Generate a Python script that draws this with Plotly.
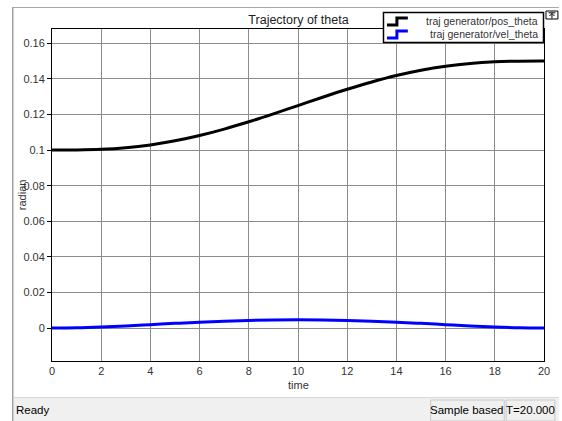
import plotly.graph_objects as go

# ---- data ----
time = [0, 1, 2, 3, 4, 5, 6, 7, 8, 9, 10, 11, 12, 13, 14, 15, 16, 17, 18, 19, 20]
pos_theta = [0.1000, 0.10006, 0.10043, 0.10133, 0.10290, 0.10518, 0.10815, 0.11176,
             0.11587, 0.12034, 0.12500, 0.12966, 0.13413, 0.13824, 0.14185, 0.14482,
             0.14710, 0.14867, 0.14957, 0.14994, 0.1500]
vel_theta = [0.0, 0.00017, 0.00061, 0.00122, 0.00192, 0.00264, 0.00331, 0.00388,
             0.00432, 0.00459, 0.00469, 0.00459, 0.00432, 0.00388, 0.00331, 0.00264,
             0.00192, 0.00122, 0.00061, 0.00017, 0.0]
x_ticks = [0, 2, 4, 6, 8, 10, 12, 14, 16, 18, 20]
y_ticks = [0, 0.02, 0.04, 0.06, 0.08, 0.1, 0.12, 0.14, 0.16]
y_tick_labels = ["0", "0.02", "0.04", "0.06", "0.08", "0.1", "0.12", "0.14", "0.16"]
series_names = ["traj generator/pos_theta", "traj generator/vel_theta"]
series_colors = ["#000000", "#0000ff"]

W, H = 562, 421
# plot area in page pixels
PL, PR, PT, PB = 52, 547, 29, 361


def X(px):
    return (px - PL) / (PR - PL)


def Y(py):
    return (PB - py) / (PB - PT)


FONT = "Liberation Sans, Arial, sans-serif"

fig = go.Figure()
fig.add_trace(go.Scatter(x=time, y=pos_theta, mode="lines", name=series_names[0],
                         line=dict(color=series_colors[0], width=3, shape="spline"),
                         showlegend=False, hoverinfo="skip"))
fig.add_trace(go.Scatter(x=time, y=vel_theta, mode="lines", name=series_names[1],
                         line=dict(color=series_colors[1], width=3, shape="spline"),
                         showlegend=False, hoverinfo="skip"))

shapes = []
annotations = []

# window frame lines
shapes.append(dict(type="line", xref="paper", yref="paper", x0=X(12.5), x1=X(12.5), y0=Y(7), y1=Y(421),
                   line=dict(color="#a0a0a0", width=1.5)))
shapes.append(dict(type="line", xref="paper", yref="paper", x0=X(12), x1=X(562), y0=Y(7.5), y1=Y(7.5),
                   line=dict(color="#a8a8a8", width=1)))
# status bar
shapes.append(dict(type="rect", xref="paper", yref="paper", x0=X(13.5), x1=X(562), y0=Y(398), y1=Y(421),
                   fillcolor="#f0f0f0", line=dict(width=0), layer="below"))
shapes.append(dict(type="line", xref="paper", yref="paper", x0=X(13.5), x1=X(562), y0=Y(397.5), y1=Y(397.5),
                   line=dict(color="#d8d8d8", width=1)))
shapes.append(dict(type="rect", xref="paper", yref="paper", x0=X(433), x1=X(507), y0=Y(400), y1=Y(421),
                   line=dict(color="#c8c8c8", width=1)))
shapes.append(dict(type="rect", xref="paper", yref="paper", x0=X(509), x1=X(558), y0=Y(400), y1=Y(421),
                   line=dict(color="#c8c8c8", width=1)))
annotations.append(dict(x=X(14), y=Y(410), xref="paper", yref="paper", text="Ready", showarrow=False,
                        xanchor="left", yanchor="middle", font=dict(family=FONT, size=11.5, color="#000")))
annotations.append(dict(x=X(469.5), y=Y(410), xref="paper", yref="paper", text="Sample based", showarrow=False,
                        xanchor="center", yanchor="middle", font=dict(family=FONT, size=11.5, color="#000")))
annotations.append(dict(x=X(533.5), y=Y(410), xref="paper", yref="paper", text="T=20.000", showarrow=False,
                        xanchor="center", yanchor="middle", font=dict(family=FONT, size=11.5, color="#000")))

# axis titles
annotations.append(dict(x=X(299.5), y=Y(385), xref="paper", yref="paper", text="time", showarrow=False,
                        xanchor="center", yanchor="middle", font=dict(family=FONT, size=11, color="#333")))
annotations.append(dict(x=X(22), y=Y(195), xref="paper", yref="paper", text="radian", showarrow=False,
                        textangle=-90, xanchor="center", yanchor="middle",
                        font=dict(family=FONT, size=11, color="#333")))

# small icon top-right
shapes.append(dict(type="rect", xref="paper", yref="paper", x0=X(549), x1=X(561), y0=Y(11), y1=Y(19),
                   line=dict(color="#000", width=1), fillcolor="#fff"))
shapes.append(dict(type="path", xref="paper", yref="paper",
                   path=f"M {X(551.5)} {Y(12.8)} L {X(558.5)} {Y(12.8)} M {X(555)} {Y(13.5)} L {X(555)} {Y(18.5)} "
                        f"M {X(552.5)} {Y(16)} L {X(555)} {Y(13.5)} L {X(557.5)} {Y(16)}",
                   line=dict(color="#000", width=1)))

# legend box
shapes.append(dict(type="rect", xref="paper", yref="paper", x0=X(385.5), x1=X(546.5), y0=Y(12.5), y1=Y(42.5),
                   fillcolor="#fff", line=dict(color="#000", width=1.5)))
for i, (nm, col) in enumerate(zip(series_names, series_colors)):
    yc = 21.5 + 13 * i
    shapes.append(dict(type="path", xref="paper", yref="paper",
                       path=f"M {X(389)} {Y(yc + 3.5)} L {X(399)} {Y(yc + 3.5)} L {X(399)} {Y(yc - 3.5)} L {X(410)} {Y(yc - 3.5)}",
                       line=dict(color=col, width=3)))
    annotations.append(dict(x=X(543), y=Y(yc), xref="paper", yref="paper", text=nm, showarrow=False,
                            xanchor="right", yanchor="middle", font=dict(family=FONT, size=10.5, color="#333")))

fig.update_layout(
    width=W, height=H,
    margin=dict(l=PL, r=W - PR, t=PT, b=H - PB),
    paper_bgcolor="#ffffff", plot_bgcolor="#ffffff",
    title=dict(text="Trajectory of theta", x=X(300), xref="paper", xanchor="center",
               y=1 - 20 / H, yanchor="middle", font=dict(family=FONT, size=12.5, color="#222")),
    shapes=shapes, annotations=annotations,
    font=dict(family=FONT, size=11, color="#333"),
    hovermode=False,
)
fig.update_xaxes(range=[0, 20], tickvals=x_ticks, showgrid=True, gridcolor="#8c8c8c", gridwidth=1,
                 showline=True, linecolor="#000", linewidth=1, mirror=True, zeroline=False,
                 ticks="", tickfont=dict(family=FONT, size=11, color="#333"))
fig.update_yaxes(range=[-0.0185, 0.168], tickvals=y_ticks, ticktext=y_tick_labels, showgrid=True,
                 gridcolor="#8c8c8c", gridwidth=1, showline=True, linecolor="#000", linewidth=1,
                 mirror=True, zeroline=False, ticks="outside", ticklen=4, tickcolor="#000",
                 tickfont=dict(family=FONT, size=11, color="#333"))

fig.write_html("out.html", config={"displayModeBar": False},
               post_script="document.body.style.margin='0';document.body.style.overflow='hidden';")
